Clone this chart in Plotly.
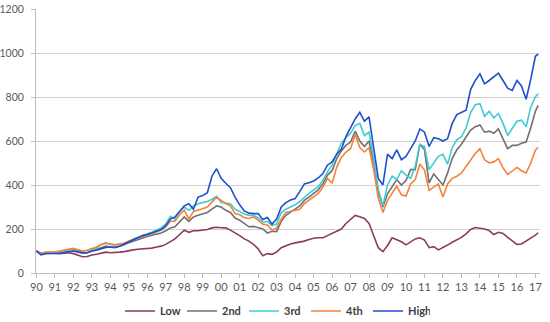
import plotly.graph_objects as go

# quarterly time points (decimal years)
years = [1990 + i * 0.25 for i in range(109)] + [2017.15]

low = [100, 90, 92, 90, 90, 88, 90, 92, 88, 80, 74, 75, 82, 85, 90, 95, 92, 95, 95, 97,
       102, 105, 108, 110, 110, 113, 118, 122, 130, 142, 155, 175, 195, 185, 192, 192,
       195, 198, 205, 208, 206, 205, 195, 183, 170, 155, 145, 130, 110, 78, 88, 85,
       95, 115, 125, 132, 137, 140, 145, 152, 158, 160, 160, 170, 180, 190, 200, 225,
       245, 262, 256, 248, 225, 170, 115, 97, 125, 160, 150, 142, 128, 140, 155, 160,
       150, 115, 120, 105, 115, 127, 140, 152, 162, 178, 198, 207, 205, 200, 193, 175,
       185, 180, 162, 145, 130, 132, 145, 157, 172, 183]

second = [100, 88, 92, 92, 90, 92, 95, 98, 100, 95, 90, 92, 100, 105, 115, 122, 118, 118, 122, 128,
          138, 145, 155, 162, 166, 172, 178, 182, 192, 205, 210, 235, 255, 235, 255, 262,
          268, 275, 290, 305, 300, 285, 275, 250, 240, 225, 210, 212, 205, 200, 182, 190,
          188, 235, 262, 275, 290, 305, 330, 345, 360, 378, 405, 445, 465, 520, 555, 580,
          595, 645, 600, 575, 600, 500, 370, 300, 360, 395, 425, 400, 420, 470, 470, 585,
          560, 410, 450, 425, 400, 455, 520, 560, 585, 618, 650, 665, 673, 640, 645, 635,
          655, 610, 565, 580, 580, 590, 595, 660, 735, 762]

third = [100, 88, 92, 92, 93, 95, 100, 105, 108, 103, 100, 102, 108, 115, 128, 138, 130, 128, 132, 135,
         143, 155, 163, 172, 178, 185, 195, 205, 222, 258, 245, 280, 300, 285, 305, 315,
         320, 325, 335, 348, 320, 318, 315, 290, 280, 268, 262, 262, 250, 232, 234, 215,
         222, 275, 290, 300, 310, 325, 345, 362, 378, 392, 420, 460, 490, 540, 590, 615,
         635, 670, 680, 625, 640, 520, 380, 305, 400, 440, 425, 465, 445, 430, 485, 585,
         575, 470, 500, 530, 540, 495, 570, 605, 620, 660, 730, 765, 770, 712, 735, 705,
         725, 680, 625, 660, 690, 695, 665, 755, 800, 815]

fourth = [100, 90, 95, 95, 95, 100, 105, 110, 112, 106, 100, 103, 110, 118, 130, 135, 132, 128, 132, 135,
          145, 152, 160, 168, 172, 178, 185, 195, 210, 235, 235, 265, 286, 245, 280, 285,
          292, 300, 325, 345, 330, 315, 305, 270, 265, 252, 248, 255, 240, 222, 218, 195,
          205, 245, 275, 280, 285, 290, 315, 332, 345, 362, 390, 430, 408, 480, 525, 550,
          565, 630, 570, 550, 570, 470, 340, 275, 330, 365, 395, 355, 350, 405, 425, 495,
          468, 375, 392, 405, 345, 405, 430, 440, 455, 483, 512, 543, 565, 515, 500, 505,
          520, 478, 448, 465, 480, 465, 455, 500, 558, 572]

high = [100, 82, 88, 88, 90, 90, 93, 97, 100, 97, 92, 92, 100, 103, 110, 116, 118, 115, 122, 132,
        140, 152, 160, 170, 175, 182, 190, 198, 215, 245, 255, 280, 305, 315, 290, 345,
        352, 365, 440, 474, 430, 408, 388, 345, 310, 282, 272, 270, 270, 243, 252, 222,
        245, 300, 320, 332, 338, 370, 405, 410, 418, 432, 452, 490, 505, 540, 562, 620,
        660, 700, 730, 690, 710, 560, 430, 400, 540, 520, 560, 515, 530, 565, 600, 655,
        640, 575, 615, 610, 600, 610, 680, 720, 730, 740, 835, 875, 905, 860, 875, 890,
        908, 875, 840, 830, 875, 850, 790, 880, 985, 995]

series_names = ["Low", "2nd", "3rd", "4th", "High"]
series_values = [low, second, third, fourth, high]
series_colors = ["#8B3A62", "#707070", "#3FCBD6", "#F5823A", "#1E4FCC"]

tick_years = list(range(1990, 2018))
tick_labels = [f"{y % 100:02d}" for y in tick_years]

fig = go.Figure()
for name, vals, col in zip(series_names, series_values, series_colors):
    fig.add_trace(go.Scatter(x=years, y=vals, mode="lines", name=name,
                             line=dict(color=col, width=1.6)))

fig.update_layout(
    width=550, height=322,
    margin=dict(l=36, r=10, t=9, b=49),
    paper_bgcolor="white", plot_bgcolor="white",
    font=dict(family="Lato, Carlito, Liberation Sans, sans-serif", size=11, color="#595959"),
    showlegend=True,
    legend=dict(orientation="h", x=0.5, xanchor="center", xref="container",
                y=1 - 311 / 322, yanchor="middle", yref="container",
                font=dict(size=11, color="#404040", family="Lato, sans-serif", weight="bold"),
                itemwidth=30, entrywidth=17, tracegroupgap=0, bgcolor="rgba(0,0,0,0)"),
)
fig.update_xaxes(range=[1989.98, 2017.25], tickvals=tick_years, ticktext=tick_labels,
                 showgrid=False, showline=True, linecolor="#BFBFBF", linewidth=1,
                 ticks="outside", ticklen=4, tickcolor="#BFBFBF", zeroline=False,
                 automargin=False, tickfont=dict(size=11, color="#595959"))
fig.update_yaxes(range=[0, 1200], dtick=200, showgrid=True, gridcolor="#D0D0D0", gridwidth=1,
                 showline=True, linecolor="#BFBFBF", linewidth=1, ticks="outside", ticklen=4,
                 tickcolor="#BFBFBF", zeroline=False, ticklabelstandoff=5, automargin=False,
                 tickfont=dict(size=10.5, color="#595959"))

fig.write_html("out.html")
